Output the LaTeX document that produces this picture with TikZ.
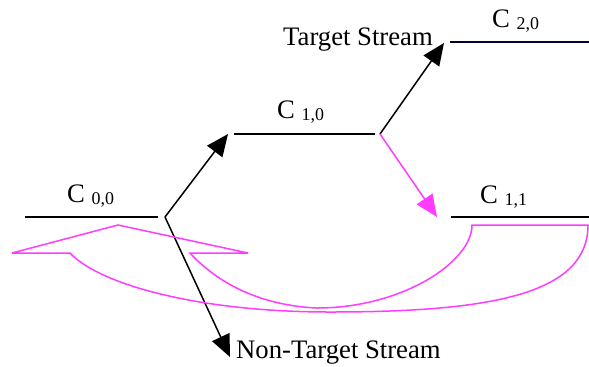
\documentclass[tikz,border=0pt]{standalone}
\usepackage{fontspec}
\setmainfont{Liberation Serif}
\usetikzlibrary{arrows.meta}
\definecolor{mag}{RGB}{255,60,255}
\definecolor{navyline}{RGB}{0,0,51}
\newcommand\mysub[1]{{\fontsize{18}{20}\selectfont\raisebox{-2bp}{#1}}}
\begin{document}
\begin{tikzpicture}[x=1bp,y=-1bp,
  cline/.style={line width=2bp},
  flow/.style={line width=1.5bp,-{Triangle[length=22bp,width=19bp]}},
  lbl/.style={inner sep=0,anchor=base west,font=\fontsize{26.8}{30}\selectfont},
]
\useasboundingbox (0,0) rectangle (589,366);
% stream lines
\coordinate (a0) at (25,217);  \coordinate (a1) at (158,217);
\coordinate (b0) at (234,134); \coordinate (b1) at (375,134);
\coordinate (c0) at (450,42);  \coordinate (c1) at (589,42);
\coordinate (d0) at (451,217); \coordinate (d1) at (589,217);
\coordinate (j0) at (165,217); \coordinate (j1) at (380,134);
\coordinate (tnt) at (230,357);
\coordinate (tb) at (228,134);
\coordinate (tc) at (444,43);
\coordinate (td) at (437,217);
\draw[cline] (a0) -- (a1);
\draw[cline] (b0) -- (b1);
\draw[cline,navyline] (c0) -- (c1);
\draw[cline] (d0) -- (d1);
% labels
\node[lbl] (l00) at (67,202) {C \mysub{0,0}};
\node[lbl] (l10) at (277,118) {C \mysub{1,0}};
\node[lbl] (l20) at (492,27) {C \mysub{2,0}};
\node[lbl] (l11) at (480,203) {C \mysub{1,1}};
\node[lbl] (ts) at (283,45) {Target Stream};
\node[lbl] (nts) at (236,358) {Non-Target Stream};
% arrows
\draw[flow] (j0) -- (tb);
\draw[flow] (j1) -- (tc);
\draw[flow,mag] (j1) -- (td);
\draw[flow] (j0) -- (tnt);
% U-turn arrow
\draw[mag,line width=1.5bp,miter limit=3]
  (118,225) -- (248,253) -- (190,253)
  .. controls (210,275) and (250,305) .. (317,308)
  .. controls (402,308) and (472,262) .. (472,225)
  -- (588,225)
  .. controls (588,293) and (495,312) .. (330,312)
  .. controls (200,312) and (100,285) .. (70,253)
  -- (12,253) -- cycle;
\end{tikzpicture}
\end{document}
